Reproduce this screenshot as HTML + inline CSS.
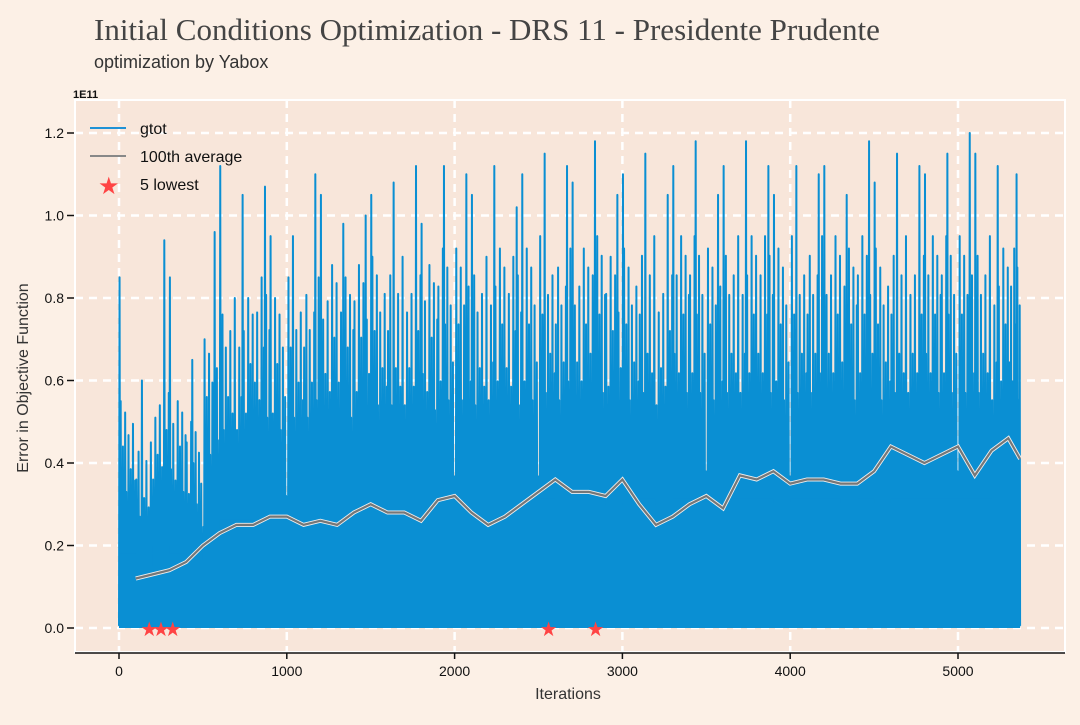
<!DOCTYPE html>
<html><head><meta charset="utf-8"><style>
body{margin:0;background:#fcf0e6;width:1080px;height:720px;overflow:hidden;font-family:"Liberation Sans",sans-serif;}
</style></head><body>
<svg id="chart" width="1080" height="720" xmlns="http://www.w3.org/2000/svg">
<rect width="1080" height="720" fill="#fcf0e6"/>
<text x="94" y="40" font-family="Liberation Serif, serif" font-size="31" fill="#444">Initial Conditions Optimization - DRS 11 - Presidente Prudente</text>
<text x="94" y="68" font-size="18" fill="#333">optimization by Yabox</text>
<rect x="75" y="100" width="990" height="552" fill="#f8e6da" stroke="#fff" stroke-width="2"/>
<g id="grid"></g>
<g id="blue"></g>
<g id="avg"></g>
<g id="stars"></g>
<g id="axes"></g>
<text x="73" y="98" font-size="11" font-weight="bold" fill="#111">1E11</text>
<text transform="translate(28,378) rotate(-90)" text-anchor="middle" font-size="16" fill="#333">Error in Objective Function</text>
<text x="568" y="699" text-anchor="middle" font-size="16" fill="#333">Iterations</text>
<g>
<line x1="90" y1="128" x2="126" y2="128" stroke="#1f92d6" stroke-width="2"/>
<text x="140" y="134" font-size="16" fill="#111">gtot</text>
<line x1="90" y1="156" x2="126" y2="156" stroke="#888" stroke-width="2"/>
<text x="140" y="162" font-size="16" fill="#111">100th average</text>
<text x="98" y="194" font-size="24" fill="#f44">★</text>
<text x="140" y="190" font-size="16" fill="#111">5 lowest</text>
</g>
</svg>
<script>
const xTicks=[0,1000,2000,3000,4000,5000];
const yTicks=[0,0.2,0.4,0.6,0.8,1.0,1.2];
const yTickLabels=["0.0","0.2","0.4","0.6","0.8","1.0","1.2"];
const peakIters=[0,100,200,300,400,500,600,700,800,900,1000,1100,1200,1300,1400,1500,1600,1700,1800,1900,2000,2100,2200,2300,2400,2500,2600,2700,2800,2900,3000,3100,3200,3300,3400,3500,3600,3700,3800,3900,4000,4100,4200,4300,4400,4500,4600,4700,4800,4900,5000,5100,5200,5300];
const peakValues=[0.85,0.6,0.94,0.85,0.65,0.96,1.12,1.05,1.07,0.95,0.95,1.1,1.05,0.98,1.0,1.05,1.08,1.12,0.98,1.12,1.1,1.05,1.12,1.02,1.1,1.15,1.12,1.08,1.18,1.05,1.1,1.15,1.05,1.12,1.18,1.05,1.12,1.18,1.12,1.05,1.12,1.1,1.12,1.05,1.18,1.08,1.15,1.12,1.1,1.15,1.2,1.15,1.12,1.1];
const denseValues=[0.55,0.45,0.6,0.55,0.5,0.7,0.8,0.8,0.85,0.8,0.85,0.85,0.88,0.85,0.88,0.9,0.9,0.9,0.88,0.92,0.92,0.9,0.92,0.9,0.92,0.95,0.92,0.92,0.95,0.9,0.92,0.95,0.9,0.95,0.95,0.92,0.95,0.95,0.95,0.92,0.95,0.95,0.95,0.92,0.95,0.92,0.95,0.95,0.95,0.95,0.95,0.95,0.92,0.92];
const avgIters=[100,200,300,400,500,600,700,800,900,1000,1100,1200,1300,1400,1500,1600,1700,1800,1900,2000,2100,2200,2300,2400,2500,2600,2700,2800,2900,3000,3100,3200,3300,3400,3500,3600,3700,3800,3900,4000,4100,4200,4300,4400,4500,4600,4700,4800,4900,5000,5100,5200,5300,5370];
const avgValues=[0.12,0.13,0.14,0.16,0.2,0.23,0.25,0.25,0.27,0.27,0.25,0.26,0.25,0.28,0.3,0.28,0.28,0.26,0.31,0.32,0.28,0.25,0.27,0.3,0.33,0.36,0.33,0.33,0.32,0.36,0.3,0.25,0.27,0.3,0.32,0.29,0.37,0.36,0.38,0.35,0.36,0.36,0.35,0.35,0.38,0.44,0.42,0.4,0.42,0.44,0.37,0.43,0.46,0.41];
const starIters=[180,250,320,2560,2840];
const starValues=[0,0,0,0,0];
const xMax=5370;
const X=v=>119+v*(958-119)/5000;
const Y=v=>628-v*412.5;
const NS="http://www.w3.org/2000/svg";
function mk(tag,attrs,parent){const e=document.createElementNS(NS,tag);for(const k in attrs)e.setAttribute(k,attrs[k]);parent.appendChild(e);return e;}
const grid=document.getElementById('grid'),axes=document.getElementById('axes');
xTicks.forEach(t=>{
 const l=mk('line',{x1:X(t),x2:X(t),y1:100,y2:652,stroke:'#fff','stroke-width':2.5,'stroke-dasharray':'8 6'},grid);
 
 
 const tl=mk('text',{x:X(t),y:676,'text-anchor':'middle','font-size':14,fill:'#111'},axes);
 tl.textContent=t;
 
 
 mk('line',{x1:X(t),x2:X(t),y1:653,y2:659,stroke:'#111','stroke-width':1.5},axes);
});
yTicks.forEach((t,i)=>{
 const l=mk('line',{x1:75,x2:1065,y1:Y(t),y2:Y(t),stroke:'#fff','stroke-width':2.5,'stroke-dasharray':'8 6'},grid);
 
 
 const tl=mk('text',{x:64,y:Y(t)+5,'text-anchor':'end','font-size':14,fill:'#111'},axes);
 tl.textContent=yTickLabels[i];
 
 
 mk('line',{x1:67,x2:74,y1:Y(t),y2:Y(t),stroke:'#111','stroke-width':1.5},axes);
});
const xl=mk('line',{x1:75,x2:1065,y1:653,y2:653,stroke:'#111','stroke-width':1.5},axes);


const blue=document.getElementById('blue');
let pts=[];
const mult=[0.35,1,0.55,0.8,0.45,0.95,0.6,0.3,0.85,0.5,0.7,0.4,0.9,0.55,0.65];
peakIters.forEach((it,i)=>{
 const end=Math.min(it+100,xMax);
 const steps=15;
 const pk=(i*5)%steps;
 for(let k=0;k<steps;k++){
  const a=it+(end-it)*k/steps, b=it+(end-it)*(k+0.5)/steps;
  const hi=(k===pk)?peakValues[i]:denseValues[i]*mult[(k+i*3)%mult.length];
  pts.push(X(a)+','+Y(0.005));
  pts.push(X(b)+','+Y(hi));
 }
});
pts.push(X(xMax)+','+Y(0.005));
const bl=mk('polyline',{points:pts.join(' '),fill:'none',stroke:'#0a8fd3','stroke-width':2,'stroke-linejoin':'round'},blue);


let fp=[X(0)+','+Y(0)];
peakIters.forEach((it,i)=>{fp.push(X(it)+','+Y(denseValues[i]*0.33));fp.push(X(Math.min(it+100,xMax))+','+Y(denseValues[i]*0.33));});
fp.push(X(xMax)+','+Y(0));
const bf=mk('polygon',{points:fp.join(' '),fill:'#0a8fd3'},blue);


const ap=avgIters.map((it,i)=>X(it)+','+Y(avgValues[i])).join(' ');
const al=mk('polyline',{points:ap,fill:'none',stroke:'#eee','stroke-width':4},document.getElementById('avg'));


const al2=mk('polyline',{points:ap,fill:'none',stroke:'#777','stroke-width':2.2},document.getElementById('avg'));


starIters.forEach((it,i)=>{
 const s=mk('text',{x:X(it),y:Y(starValues[i])+8,'text-anchor':'middle','font-size':20,fill:'#f44'},document.getElementById('stars'));
 s.textContent='★';
 
 
});
</script>
</body></html>
